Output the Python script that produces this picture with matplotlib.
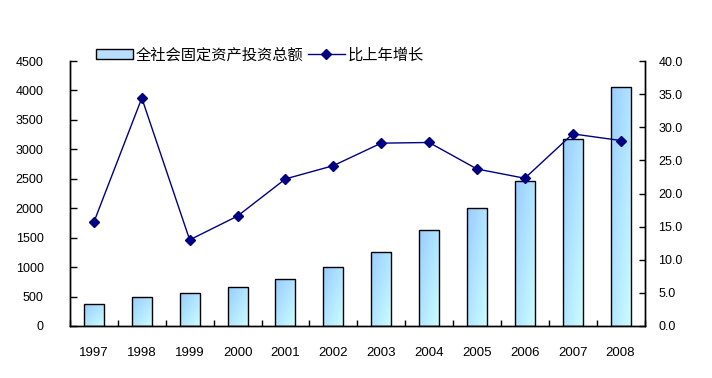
import numpy as np
import matplotlib
matplotlib.use("Agg")
import matplotlib.pyplot as plt
from matplotlib.patches import Rectangle, Patch
from matplotlib.lines import Line2D
from matplotlib.colors import LinearSegmentedColormap

years = ["1997", "1998", "1999", "2000", "2001", "2002",
         "2003", "2004", "2005", "2006", "2007", "2008"]
investment = [368, 487, 555, 657, 793, 997, 1257, 1625, 2004, 2457, 3170, 4053]
growth = [15.7, 34.4, 13.0, 16.6, 22.2, 24.2, 27.6, 27.7, 23.7, 22.3, 29.0, 28.0]
left_ticks = [0, 500, 1000, 1500, 2000, 2500, 3000, 3500, 4000, 4500]
right_ticks = [0.0, 5.0, 10.0, 15.0, 20.0, 25.0, 30.0, 35.0, 40.0]
bar_label = "全社会固定资产投资总额"
line_label = "比上年增长"

plt.rcParams['font.family'] = ['Liberation Sans', 'Noto Sans CJK SC', 'DejaVu Sans']

fig = plt.figure(figsize=(7.12, 3.78), dpi=100)
ax = fig.add_axes([70/712, 1-326/378, (644.5-70)/712, (326-61)/378])
ax2 = ax.twinx()

x = np.arange(len(years))
width = 0.42
cmap = LinearSegmentedColormap.from_list("g", ["#99CCFF", "#CCFFFF"])
uu, vv = np.meshgrid(np.linspace(0, 1, 40), np.linspace(0, 1, 200))
grad = (uu * 0.5 + vv * 0.5)  # row 0 = top (origin upper)

bars = ax.bar(x, investment, width=width, facecolor='none', edgecolor='black',
              linewidth=1.0, zorder=3)
for b in bars:
    x0, y0 = b.get_x(), b.get_y()
    w, h = b.get_width(), b.get_height()
    im = ax.imshow(grad, cmap=cmap, extent=[x0, x0 + w, y0, y0 + h],
                   origin='upper', aspect='auto', zorder=2, interpolation='bilinear')
    clip = Rectangle((x0, y0), w, h, transform=ax.transData)
    im.set_clip_path(clip)

ax.set_xlim(-0.5, len(years) - 0.5)
ax.set_ylim(0, 4500)
ax.set_yticks(left_ticks)
ax.set_yticklabels([str(v) for v in left_ticks], fontsize=9)
ax.tick_params(axis='y', direction='in', length=5, width=1, pad=19)
ax.set_xticks(x)
ax.set_xticklabels(years, fontsize=9.5)
ax.tick_params(axis='x', which='major', length=0, pad=15)
ax.set_xticks(np.arange(-0.5, len(years)), minor=True)
ax.tick_params(axis='x', which='minor', direction='in', length=4, width=1)

ax2.plot(x, growth, color='#000080', linewidth=1.0, marker='D', markersize=5,
         markerfacecolor='#000080', markeredgecolor='#000080', zorder=5)
ax2.set_ylim(0, 40)
ax2.set_yticks(right_ticks)
ax2.set_yticklabels([f"{v:.1f}" for v in right_ticks], fontsize=9)
ax2.tick_params(axis='y', direction='in', length=4, width=1, pad=10)

for a in (ax, ax2):
    a.spines['top'].set_visible(False)
    for s in ('left', 'right', 'bottom'):
        a.spines[s].set_linewidth(1.0)
        a.spines[s].set_color('black')

handles = [Patch(facecolor='#B8DDFF', edgecolor='black', linewidth=1.0),
           Line2D([0], [0], color='#000080', linewidth=1.0, marker='D', markersize=5)]
leg = fig.legend(handles, [bar_label, line_label], loc='center left',
                 bbox_to_anchor=(96/712, 1-55/378), ncol=2, frameon=False,
                 prop={'family': ['Noto Sans CJK SC', 'DejaVu Sans'], 'size': 11},
                 handlelength=2.4, handleheight=0.6, handletextpad=0.2,
                 columnspacing=0.3, borderaxespad=0, borderpad=0)

fig.savefig("out.png", dpi=100)
